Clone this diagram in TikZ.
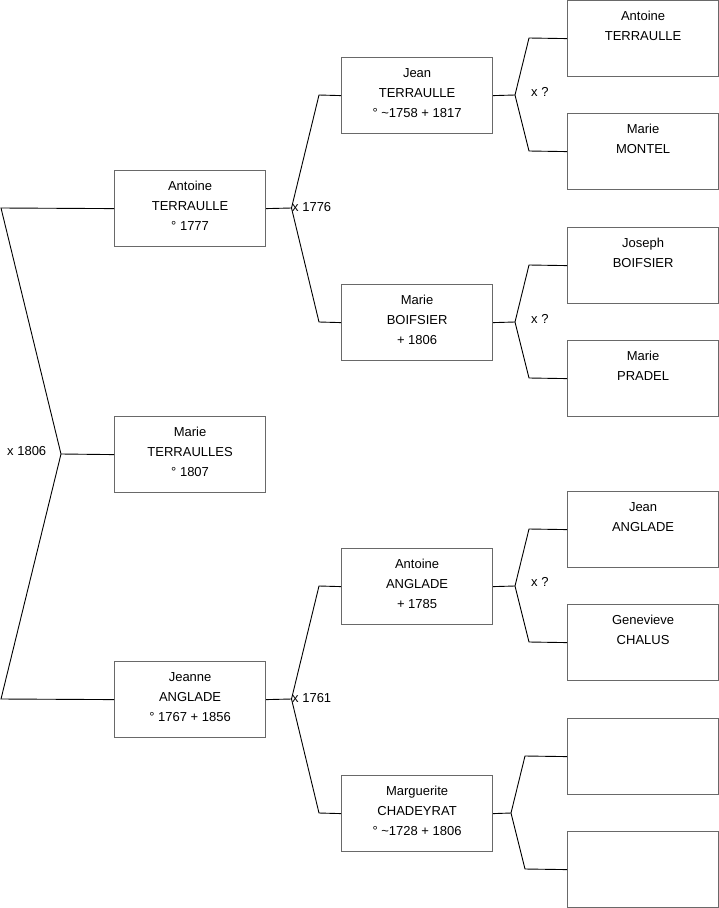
\documentclass[tikz,border=0pt]{standalone}
\usepackage{fontspec}
\setmainfont{Liberation Sans}
\definecolor{boxgray}{RGB}{105,105,105}
\newcommand{\person}[4]{%
  \node[pbox] (#1) at (#2,#3) {};
  \node[ptext] (#1t) at ([yshift=-10.5pt]#1.north) {\rule{0pt}{10pt}#4};
}
\begin{document}
\begin{tikzpicture}[x=1pt,y=-1pt,
  pbox/.style={draw=boxgray, line width=1.2pt, fill=white, minimum width=151pt, minimum height=76pt, inner sep=0pt, anchor=north west},
  ptext/.style={anchor=north, align=center, inner sep=0pt, font=\fontsize{13}{20}\selectfont},
  conn/.style={line width=0.9pt, draw=black},
  mlabel/.style={anchor=base west, inner sep=0pt, font=\fontsize{13}{16}\selectfont}]
\useasboundingbox[fill=white] (0,0) rectangle (719,908);

% column 1
\person{a1}{114}{170}{Antoine\\TERRAULLE\\° 1777}
\person{m1}{114}{416}{Marie\\TERRAULLES\\° 1807}
\person{j1}{114}{661}{Jeanne\\ANGLADE\\° 1767 + 1856}
% column 2
\person{b1}{341}{57}{Jean\\TERRAULLE\\° \textasciitilde 1758 + 1817}
\person{b2}{341}{284}{Marie\\BOIFSIER\\+ 1806}
\person{b3}{341}{548}{Antoine\\ANGLADE\\+ 1785}
\person{b4}{341}{775}{Marguerite\\CHADEYRAT\\° \textasciitilde 1728 + 1806}
% column 3
\person{c1}{567}{0}{Antoine\\TERRAULLE}
\person{c2}{567}{113}{Marie\\MONTEL}
\person{c3}{567}{227}{Joseph\\BOIFSIER}
\person{c4}{567}{340}{Marie\\PRADEL}
\person{c5}{567}{491}{Jean\\ANGLADE}
\person{c6}{567}{604}{Genevieve\\CHALUS}
\node[pbox] (c7) at (567,718) {};
\node[pbox] (c8) at (567,831) {};

% junction coordinates
\coordinate (h0) at (61,454);
\coordinate (t0a) at (1,208);
\coordinate (t0b) at (1,699);
\coordinate (h1) at (291.5,208);
\coordinate (p1a) at (319,95);
\coordinate (p1b) at (319,322);
\coordinate (h2) at (291.5,699);
\coordinate (p2a) at (319,586);
\coordinate (p2b) at (319,813);
\coordinate (h3) at (515,95);
\coordinate (q3a) at (529,38);
\coordinate (q3b) at (529,151);
\coordinate (h4) at (515,322);
\coordinate (q4a) at (529,265);
\coordinate (q4b) at (529,378);
\coordinate (h5) at (515,586);
\coordinate (q5a) at (529,529);
\coordinate (q5b) at (529,642);
\coordinate (h6) at (511,813);
\coordinate (q6a) at (525,756);
\coordinate (q6b) at (525,869);

% connectors
\draw[conn] (m1.west) -- (h0);
\draw[conn] (a1.west) -- (t0a) -- (h0) -- (t0b) -- (j1.west);
\draw[conn] (a1.east) -- (h1);
\draw[conn] (b1.west) -- (p1a) -- (h1) -- (p1b) -- (b2.west);
\draw[conn] (j1.east) -- (h2);
\draw[conn] (b3.west) -- (p2a) -- (h2) -- (p2b) -- (b4.west);
\draw[conn] (b1.east) -- (h3);
\draw[conn] (c1.west) -- (q3a) -- (h3) -- (q3b) -- (c2.west);
\draw[conn] (b2.east) -- (h4);
\draw[conn] (c3.west) -- (q4a) -- (h4) -- (q4b) -- (c4.west);
\draw[conn] (b3.east) -- (h5);
\draw[conn] (c5.west) -- (q5a) -- (h5) -- (q5b) -- (c6.west);
\draw[conn] (b4.east) -- (h6);
\draw[conn] (c7.west) -- (q6a) -- (h6) -- (q6b) -- (c8.west);

% marriage labels
\node[mlabel] (x0) at (7,455.5) {x 1806};
\node[mlabel] (x1) at (292,211.5) {x 1776};
\node[mlabel] (x2) at (292,702.5) {x 1761};
\node[mlabel] (x3) at (531,96.5) {x ?};
\node[mlabel] (x4) at (531,323.5) {x ?};
\node[mlabel] (x5) at (531,586.5) {x ?};
\end{tikzpicture}
\end{document}
